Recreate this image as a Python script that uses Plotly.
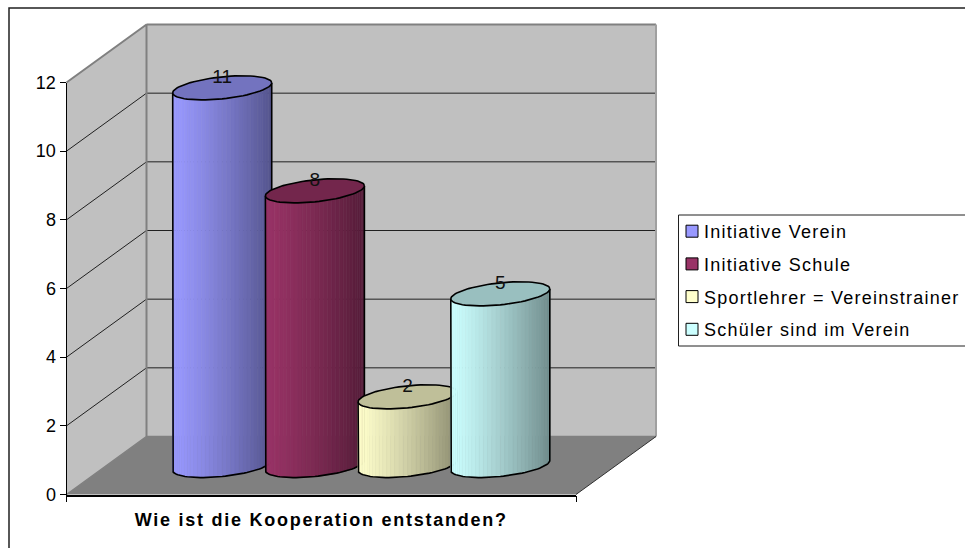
import math
import plotly.graph_objects as go

# --- data -----------------------------------------------------------------
series_names = ["Initiative Verein", "Initiative Schule",
                "Sportlehrer = Vereinstrainer", "Schüler sind im Verein"]
series_values = [11, 8, 2, 5]
series_colors = [(0x99, 0x99, 0xFF), (0x99, 0x33, 0x66), (0xFF, 0xFF, 0xCC), (0xCC, 0xFF, 0xFF)]
y_ticks = [0, 2, 4, 6, 8, 10, 12]
x_title = "Wie ist die Kooperation entstanden?"

# --- layout constants (pixels) --------------------------------------------
W, H = 965, 548
L, R, T, B = 66.5, 576, 82.5, 494.5
PX_X = R - L
PX_Y = (B - T) / 12
FONT = "Liberation Sans"
DX = 80 / PX_X          # depth of the box, in axis units
DY = 58 / PX_Y
SLOT = 92.7 / PX_X      # spacing of cylinders
RX = 49.5 / PX_X        # cylinder half width
RY = 11.0 / PX_Y        # ellipse half height
TILT = 5.0 / PX_Y       # ellipse slant
STRIPS = 36
GRID_FILL, FLOOR_FILL, EDGE = "#C0C0C0", "#808080", "#808080"

fig = go.Figure()


def poly(xs, ys, fill, line="rgba(0,0,0,0)", width=0):
    fig.add_trace(go.Scatter(x=xs, y=ys, mode="lines", fill="toself", fillcolor=fill,
                             line=dict(color=line, width=width),
                             hoverinfo="skip", showlegend=False))


def path(xs, ys, color, width):
    fig.add_trace(go.Scatter(x=xs, y=ys, mode="lines", line=dict(color=color, width=width),
                             hoverinfo="skip", showlegend=False))


def shade(rgb, f):
    return "rgb(%d,%d,%d)" % tuple(round(c * f) for c in rgb)


# box walls and floor
ymax = y_ticks[-1]
poly([0, DX, DX, 0, 0], [0, DY, ymax + DY, ymax, 0], GRID_FILL)
poly([DX, 1 + DX, 1 + DX, DX, DX], [DY, DY, ymax + DY, ymax + DY, DY], GRID_FILL)
poly([0, 1, 1 + DX, DX, 0], [0, 0, DY, DY, 0], FLOOR_FILL)
for t in y_ticks[1:-1]:
    path([0, DX, 1 + DX], [t, t + DY, t + DY], "#202020", 1)
path([0, DX, DX], [ymax, ymax + DY, DY], EDGE, 2)
path([DX, 1 + DX], [ymax + DY, ymax + DY], EDGE, 2)
path([1 + DX, 1 + DX], [ymax + DY, DY], "#A0A0A0", 2)
path([0, DX, 1 + DX], [0, DY, DY], EDGE, 1.5)
path([1, 1 + DX], [0, DY], "#303030", 1)


# cylinders
def ell(cx, cy, theta):
    return cx + RX * math.cos(theta), cy + RY * math.sin(theta) + TILT * math.cos(theta)


n = len(series_values)
label_x, label_y = [], []
for i, (val, rgb) in enumerate(zip(series_values, series_colors)):
    cx = 0.5 + (i - (n - 1) / 2) * SLOT + DX / 2
    c0 = DY / 2
    c1 = val + DY / 2
    # side, as vertical strips
    for s in range(STRIPS):
        a = math.pi + math.pi * s / STRIPS
        b = math.pi + math.pi * (s + 1) / STRIPS
        u = (math.cos(a) + 1) / 2
        f = 1 - 0.45 * u ** 1.15
        col = shade(rgb, f)
        xa0, ya0 = ell(cx, c0, a)
        xb0, yb0 = ell(cx, c0, b)
        xa1, ya1 = ell(cx, c1, a)
        xb1, yb1 = ell(cx, c1, b)
        poly([xa0, xb0, xb1, xa1, xa0], [ya0, yb0, yb1, ya1, ya0], col, col, 0.6)
    # outline of the side
    th = [math.pi + math.pi * k / 48 for k in range(49)]
    low = [ell(cx, c0, t) for t in th]
    top_l, top_r = ell(cx, c1, math.pi), ell(cx, c1, 0)
    path([top_l[0]] + [p[0] for p in low] + [top_r[0]],
         [top_l[1]] + [p[1] for p in low] + [top_r[1]], "black", 1.6)
    # top face
    th = [2 * math.pi * k / 72 for k in range(73)]
    pts = [ell(cx, c1, t) for t in th]
    poly([p[0] for p in pts], [p[1] for p in pts], shade(rgb, 0.75), "black", 1.6)
    label_x.append(cx)
    label_y.append(c1 + RY - 1.0 / PX_Y)

# value labels
fig.add_trace(go.Scatter(x=label_x, y=label_y, mode="text", text=[str(v) for v in series_values],
                         textposition="middle center", textfont=dict(family=FONT, size=19, color="#111111"),
                         hoverinfo="skip", showlegend=False))

# legend entries
for i, (name, rgb) in enumerate(zip(series_names, series_colors)):
    fig.add_trace(go.Scatter(x=[None], y=[None], mode="markers", name=name, legendgroup=name,
                             marker=dict(symbol="square", size=12, color=shade(rgb, 1),
                                         line=dict(color="black", width=1))))

# trace holding the visible axes
fig.add_trace(go.Scatter(x=[0], y=[0], xaxis="x2", yaxis="y2", mode="markers",
                         marker=dict(size=1, opacity=0), hoverinfo="skip", showlegend=False))

# outer frame and legend box
px = lambda v: v / W
py = lambda v: 1 - v / H
fig.add_shape(type="path", xref="paper", yref="paper",
              path=f"M {px(9)},-0.1 L {px(9)},{py(8)} L 1.1,{py(8)}",
              line=dict(color="#202020", width=1.5), layer="below")
fig.add_shape(type="path", xref="paper", yref="paper",
              path=f"M 1.1,{py(215)} L {px(678.5)},{py(215)} L {px(678.5)},{py(346)} L 1.1,{py(346)}",
              line=dict(color="#202020", width=1), layer="below")

fig.update_layout(
    width=W, height=H,
    margin=dict(l=0, r=0, t=0, b=0, autoexpand=False),
    paper_bgcolor="white", plot_bgcolor="rgba(0,0,0,0)",
    font=dict(family=FONT, size=18, color="black"),
    showlegend=True,
    legend=dict(x=px(664), y=py(213), xanchor="left", yanchor="top",
                bgcolor="rgba(0,0,0,0)", borderwidth=0,
                font=dict(family=FONT, size=18), tracegroupgap=6.3,
                itemclick=False, itemdoubleclick=False),
    # full-canvas axes that carry the marks, same scale as the visible axes
    xaxis=dict(domain=[0, 1], range=[-L / PX_X, (W - L) / PX_X], visible=False, fixedrange=True),
    yaxis=dict(domain=[0, 1], range=[-(H - B) / PX_Y, B / PX_Y], visible=False, fixedrange=True),
    # visible axes
    xaxis2=dict(domain=[px(L), px(R)], anchor="y2", range=[0, 1], tickvals=[0, 1], ticktext=["", ""],
                ticks="outside", ticklen=6, tickcolor="black", showgrid=False, zeroline=False,
                showline=True, linecolor="black", linewidth=1.5, fixedrange=True,
                title=dict(text=x_title, font=dict(family=FONT, size=18, weight="bold"), standoff=9)),
    yaxis2=dict(domain=[py(B), py(T)], anchor="x2", range=[0, ymax], tickvals=y_ticks, ticks="outside",
                ticklen=6, tickcolor="black", showgrid=False, zeroline=False, showline=True,
                linecolor="black", linewidth=1, tickfont=dict(family=FONT, size=18), fixedrange=True),
)

css = (".legendtext{letter-spacing:1.25px}"
       ".legend .scrollbox{clip-path:none !important}"
       ".legend .legendsymbols{transform:translateX(8px)}"
       ".x2title{letter-spacing:1.75px}")
fig.write_html("out.html", config=dict(displayModeBar=False),
               post_script="document.body.style.margin='0';"
                           "var s=document.createElement('style');s.textContent=%r;document.head.appendChild(s);" % css)
